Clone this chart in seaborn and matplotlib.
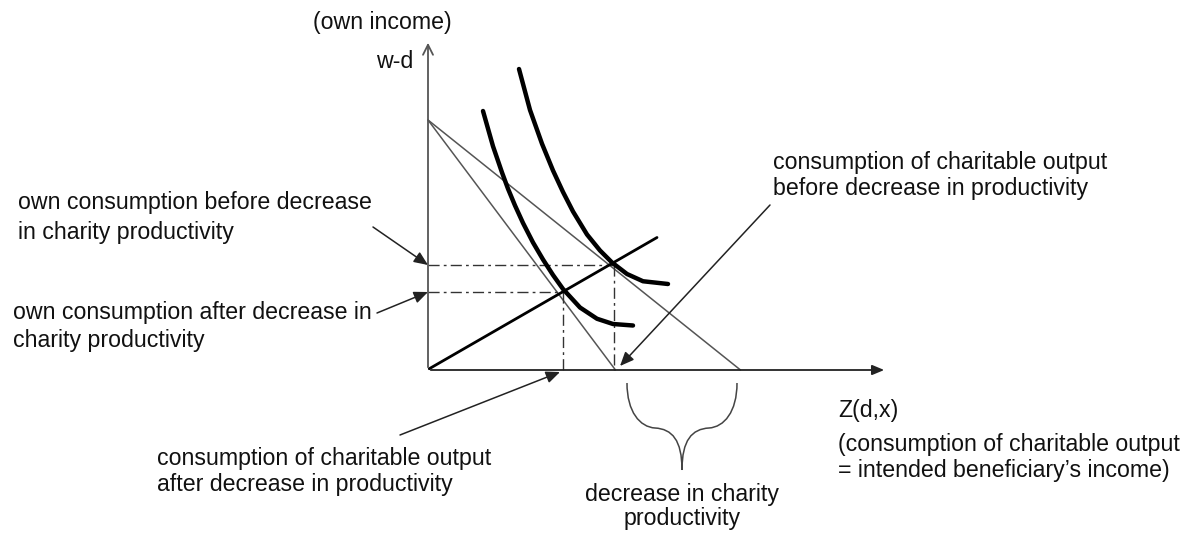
import numpy as np
import pandas as pd
import matplotlib
matplotlib.use("Agg")
import matplotlib.pyplot as plt
from matplotlib.path import Path
from matplotlib.patches import PathPatch
import seaborn as sns

sns.set_theme(style="white")
plt.rcParams['font.family'] = ['Liberation Sans', 'DejaVu Sans']

# ---------------- data (diagram units, origin at axes origin) ----------------
budget_intercept_y = 10.0
budget_before_x = 12.5          # x-intercept before decrease in productivity
budget_after_x = 7.5            # x-intercept after decrease in productivity

outer_x = [3.64, 4.08, 4.56, 5.0, 5.4, 5.8, 6.36, 6.88, 7.36, 7.96, 8.6, 9.6]
outer_y = [12.04, 10.4, 9.05, 7.98, 7.12, 6.34, 5.42, 4.78, 4.3, 3.84, 3.55, 3.44]

inner_x = [2.2, 2.6, 2.96, 3.2, 3.48, 3.8, 4.2, 4.6, 5.0, 5.4, 6.08, 6.76, 7.4, 8.2]
inner_y = [10.36, 8.95, 7.9, 7.25, 6.58, 5.88, 5.1, 4.42, 3.8, 3.24, 2.5, 2.05, 1.84, 1.78]

ray_x = [0.05, 9.16]
ray_y = [0.05, 5.3]

eq_before = (7.45, 4.22)
eq_after = (5.4, 3.12)

y_axis_top = 13.2
x_axis_end = 18.36

# annotation arrows: (start, end)
arr_own_before = ((-2.2, 5.72), (0.0, 4.2))
arr_own_after = ((-2.04, 2.28), (0.0, 3.12))
arr_char_before = ((13.68, 6.6), (7.68, 0.16))
arr_char_after = ((-1.12, -2.6), (5.28, -0.08))

# ---------------- layout ----------------
W, H = 1197, 533
SC = 25.0
OX, OY = 428, 370


def P(px, py):
    return ((px - OX) / SC, (OY - py) / SC)


fig = plt.figure(figsize=(W / 100, H / 100), dpi=100)
ax = fig.add_axes([0, 0, 1, 1])
ax.set_xlim((0 - OX) / SC, (W - OX) / SC)
ax.set_ylim((OY - H) / SC, OY / SC)
ax.axis("off")

gray = "#555555"
txt = "#111111"

# axes with arrows
ax.annotate("", xy=(0, y_axis_top), xytext=(0, 0),
            arrowprops=dict(arrowstyle="->,head_length=0.6,head_width=0.3", color=gray, lw=1.3))
ax.annotate("", xy=(x_axis_end, 0), xytext=(0, 0),
            arrowprops=dict(arrowstyle="-|>,head_length=0.6,head_width=0.25", color="#222222", lw=1.3))

# budget lines
bl = pd.DataFrame({"x": [0, budget_before_x], "y": [budget_intercept_y, 0]})
sns.lineplot(data=bl, x="x", y="y", ax=ax, color=gray, lw=1.1, sort=False, estimator=None)
bl2 = pd.DataFrame({"x": [0, budget_after_x], "y": [budget_intercept_y, 0]})
sns.lineplot(data=bl2, x="x", y="y", ax=ax, color=gray, lw=1.1, sort=False, estimator=None)

# dash-dot guides
dd = (0, (8, 3, 2, 3))
for (ex, ey) in (eq_before, eq_after):
    ax.plot([0, ex], [ey, ey], color="#333333", lw=1.0, linestyle=dd)
    ax.plot([ex, ex], [ey, 0], color="#333333", lw=1.0, linestyle=dd)

# ray from origin
sns.lineplot(x=ray_x, y=ray_y, ax=ax, color="black", lw=2.0, sort=False, estimator=None)

# indifference curves
sns.lineplot(x=outer_x, y=outer_y, ax=ax, color="black", lw=3.2, sort=False, estimator=None,
             solid_capstyle="round", solid_joinstyle="round")
sns.lineplot(x=inner_x, y=inner_y, ax=ax, color="black", lw=3.2, sort=False, estimator=None,
             solid_capstyle="round", solid_joinstyle="round")

# annotation arrows
for (s, e) in (arr_own_before, arr_own_after, arr_char_before, arr_char_after):
    ax.annotate("", xy=e, xytext=s,
                arrowprops=dict(arrowstyle="-|>,head_length=0.7,head_width=0.3",
                                color="#222222", lw=1.1, shrinkA=0, shrinkB=0))

# curly brace
verts_px = [(627, 383), (627, 412), (640, 427), (655, 428),
            (672, 429), (682, 440), (682, 470),
            (682, 440), (692, 429), (709, 428),
            (724, 427), (737, 412), (737, 383)]
verts = [P(*v) for v in verts_px]
codes = [Path.MOVETO] + [Path.CURVE4] * 12
ax.add_patch(PathPatch(Path(verts, codes), fill=False, edgecolor="#444444", lw=1.1))

# texts
fs = 16.7


def T(px, py, s, ha="left"):
    x, y = P(px, py)
    ax.text(x, y, s, ha=ha, va="center", fontsize=fs, color=txt)


T(452, 22, "(own income)", ha="right")
T(413, 61, "w-d", ha="right")
T(773, 162, "consumption of charitable output")
T(773, 188, "before decrease in productivity")
T(18, 203, "own consumption before decrease")
T(18, 233, "in charity productivity")
T(13, 313, "own consumption after decrease in")
T(13, 340, "charity productivity")
T(838, 410, "Z(d,x)")
T(838, 445, "(consumption of charitable output")
T(838, 471, "= intended beneficiary\u2019s income)")
T(157, 458, "consumption of charitable output")
T(157, 484, "after decrease in productivity")
T(682, 494, "decrease in charity", ha="center")
T(682, 519, "productivity", ha="center")

fig.savefig("out.png", dpi=100)
